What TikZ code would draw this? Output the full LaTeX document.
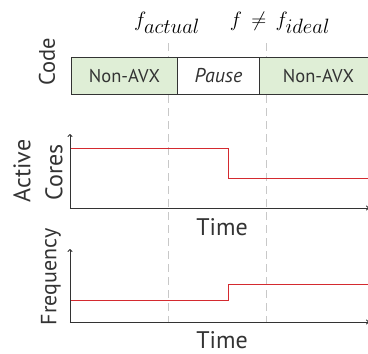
\documentclass[tikz,border=0pt]{standalone}
\usepackage{fontspec}
\setmainfont{PT Sans}
\usetikzlibrary{arrows.meta}
\definecolor{inkgray}{HTML}{333333}
\definecolor{boxgreen}{HTML}{DFEED6}
\definecolor{guidegray}{HTML}{C8C8C8}
\definecolor{tracered}{HTML}{D42A2F}
\begin{document}
\begin{tikzpicture}[x=1pt,y=-1pt,
  guide/.style={guidegray, line width=1pt, dash pattern=on 8pt off 5pt},
  codebox/.style={draw=inkgray, line width=0.9pt, minimum height=37pt, inner sep=0pt,
    anchor=north west, text=inkgray, font=\fontsize{18.5}{22}\selectfont},
  axis/.style={inkgray, line width=0.9pt, -{To[length=3pt,width=5pt]}},
  trace/.style={tracered, line width=1pt},
  axlabel/.style={text=inkgray, font=\fontsize{24}{28}\selectfont, inner sep=0pt},
  flabel/.style={text=black, font=\fontsize{22}{26}\selectfont, inner sep=0pt}]
\useasboundingbox (0,0) rectangle (368,354);

% phase boundaries
\coordinate (g1t) at (169,43);  \coordinate (g1b) at (169,322);
\coordinate (g2t) at (267,43);  \coordinate (g2b) at (267,322);
\draw[guide] (g1t) -- (g1b);
\draw[guide] (g2t) -- (g2b);

\node[flabel] (fa) at (167,23) {$f_{\textstyle actual}$};
\node[flabel] (fi) at (280,23) {$f \mathrel{\,\neq\,} f_{\textstyle ideal}$};

% code timeline
\node[codebox, fill=boxgreen, minimum width=106pt] (c1) at (71,57) {Non-AVX};
\node[codebox, fill=white, minimum width=82pt, font=\fontsize{20}{24}\selectfont\itshape] (c2) at (177,57) {Pause};
\node[codebox, fill=boxgreen, minimum width=118pt] (c3) at (259,57) {Non-AVX};
\node[axlabel, rotate=90, font=\fontsize{22.5}{26}\selectfont] (code) at (47,62) {Code};

% active cores
\coordinate (o1) at (70,208);
\coordinate (y1) at (70,134);
\coordinate (x1) at (369,208);
\draw[axis] (o1) -- (y1);
\draw[axis] (o1) -- (x1);
\coordinate (a1) at (71,148);
\coordinate (a2) at (229,148);
\coordinate (a3) at (229,178);
\coordinate (a4) at (370,178);
\draw[trace] (a1) -- (a2) -- (a3) -- (a4);
\node[axlabel, rotate=90] (act) at (22,171) {Active};
\node[axlabel, rotate=90] (cor) at (54,172) {Cores};
\node[axlabel, anchor=base] (t1) at (222,235) {Time};

% frequency
\coordinate (o2) at (70,322);
\coordinate (y2) at (70,249);
\coordinate (x2) at (369,322);
\draw[axis] (o2) -- (y2);
\draw[axis] (o2) -- (x2);
\coordinate (b1) at (71,300);
\coordinate (b2) at (229,300);
\coordinate (b3) at (229,284);
\coordinate (b4) at (370,284);
\draw[trace] (b1) -- (b2) -- (b3) -- (b4);
\node[axlabel, rotate=90, font=\fontsize{22}{26}\selectfont] (frq) at (51,277) {Frequency};
\node[axlabel, anchor=base] (t2) at (222,348) {Time};
\end{tikzpicture}
\end{document}
